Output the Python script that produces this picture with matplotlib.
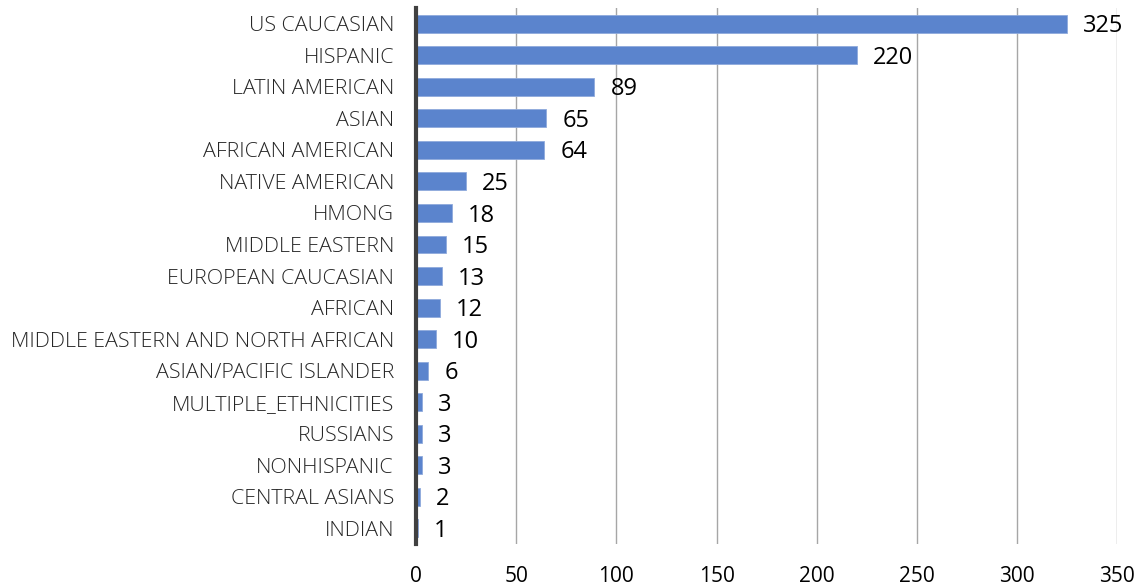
import numpy as np
import matplotlib
matplotlib.use("Agg")
import matplotlib.pyplot as plt

categories = ["US CAUCASIAN", "HISPANIC", "LATIN AMERICAN", "ASIAN", "AFRICAN AMERICAN",
              "NATIVE AMERICAN", "HMONG", "MIDDLE EASTERN", "EUROPEAN CAUCASIAN", "AFRICAN",
              "MIDDLE EASTERN AND NORTH AFRICAN", "ASIAN/PACIFIC ISLANDER",
              "MULTIPLE_ETHNICITIES", "RUSSIANS", "NONHISPANIC", "CENTRAL ASIANS", "INDIAN"]
counts = [325, 220, 89, 65, 64, 25, 18, 15, 13, 12, 10, 6, 3, 3, 3, 2, 1]
xticks = [0, 50, 100, 150, 200, 250, 300, 350]

plt.rcParams['font.family'] = ['Open Sans', 'DejaVu Sans']

fig = plt.figure(figsize=(11.4, 5.86), dpi=100)
ax = fig.add_axes([0.365, 0.0717, 0.615, 0.9145])

y = np.arange(len(categories))
ax.barh(y, counts, height=0.57, color='#5B84CD', edgecolor='#8FAADC', linewidth=0.6, zorder=3)

for yi, v in zip(y, counts):
    ax.text(v + 8, yi + 0.08, str(v), va='center', ha='left', fontsize=17, color='black')

ax.set_ylim(len(categories) - 0.5, -0.5)
ax.set_xlim(0, 350)
ax.set_yticks(y)
ax.set_yticklabels(categories, fontsize=15.4, fontweight='light', color='#262626')
ax.set_xticks(xticks)
ax.set_xticklabels([str(t) for t in xticks], fontsize=15, color='black')
ax.tick_params(axis='y', length=0, pad=16)
ax.tick_params(axis='x', length=0, pad=16)

ax.grid(axis='x', color='#A6A6A6', linewidth=1, zorder=0)
for s in ['top', 'right', 'bottom']:
    ax.spines[s].set_visible(False)
ax.spines['left'].set_color('#404040')
ax.spines['left'].set_linewidth(3)
ax.spines['left'].set_zorder(4)

fig.savefig('out.png', dpi=100)
